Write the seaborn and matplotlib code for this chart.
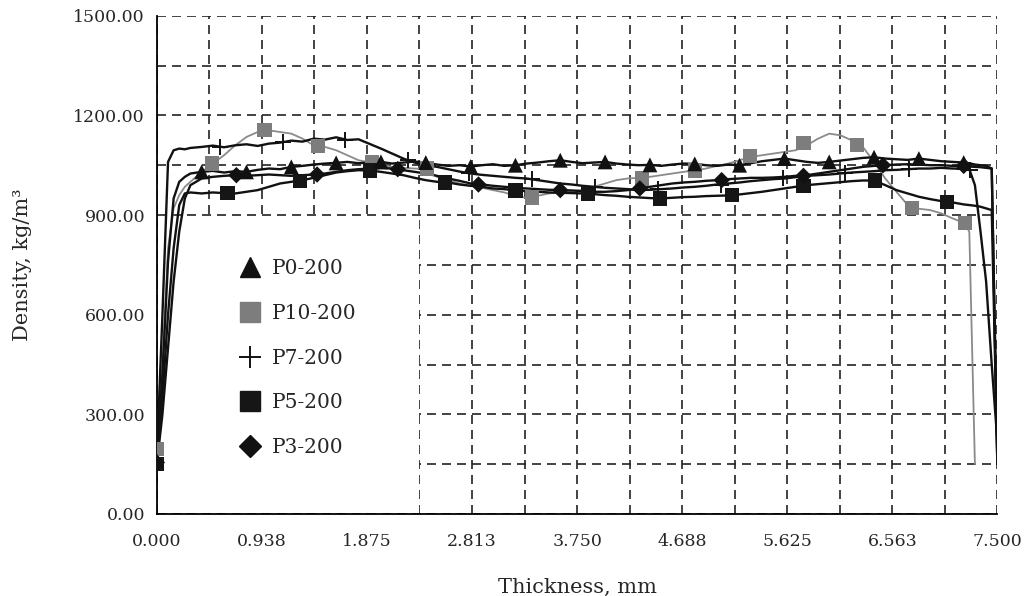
import numpy as np
import matplotlib
matplotlib.use("Agg")
import matplotlib.pyplot as plt
from matplotlib.lines import Line2D
from matplotlib.patches import Rectangle
from matplotlib.ticker import MultipleLocator, FixedLocator
import seaborn as sns

# thickness grid (mm)
thickness = [0.0, 0.05, 0.1, 0.15, 0.2, 0.25, 0.3,
             0.4, 0.5, 0.6, 0.7, 0.8, 0.9, 1.0,
             1.1, 1.2, 1.3, 1.4, 1.5, 1.6, 1.7, 1.8, 1.9, 2.0,
             2.1, 2.2, 2.3, 2.4, 2.5, 2.6, 2.7, 2.8, 2.9, 3.0,
             3.1, 3.2, 3.3, 3.4, 3.5, 3.6, 3.7, 3.8, 3.9, 4.0,
             4.1, 4.2, 4.3, 4.4, 4.5, 4.6, 4.7, 4.8, 4.9, 5.0,
             5.1, 5.2, 5.3, 5.4, 5.5, 5.6, 5.7, 5.8, 5.9, 6.0,
             6.1, 6.2, 6.3, 6.4, 6.5, 6.6, 6.7, 6.8, 6.9, 7.0,
             7.1, 7.2,
             7.25, 7.3, 7.35, 7.4, 7.45, 7.5]

# density profiles (kg/m3)
p0 = [160, 420, 760, 950, 1000, 1015, 1025,
      1030, 1033, 1028, 1032, 1030, 1036, 1040,
      1038, 1045, 1048, 1052, 1055, 1057, 1060, 1056, 1058, 1060,
      1055, 1058, 1061, 1058, 1052, 1048, 1050, 1046, 1050, 1053,
      1048, 1050, 1055, 1058, 1062, 1065, 1060, 1056, 1058, 1060,
      1055, 1052, 1050, 1051, 1048, 1052, 1055, 1054, 1050, 1048,
      1052, 1050, 1056, 1062, 1066, 1070, 1065, 1060, 1057, 1060,
      1064, 1068, 1072, 1074, 1070, 1068, 1066, 1070, 1066, 1062,
      1060, 1058,
      1056, 1052, 1050, 1048, 1040, 150]

p10 = [196, 450, 800, 920, 960, 985, 1000,
       1030, 1055, 1080, 1110, 1135, 1150, 1155,
       1150, 1145, 1130, 1110, 1105, 1095, 1080, 1065, 1058, 1050,
       1045, 1042, 1040, 1038, 1015, 1005, 995, 988, 982, 975,
       968, 958, 952, 958, 965, 968, 972, 975, 985, 995,
       1005, 1010, 1012, 1015, 1020, 1025, 1030, 1034, 1040, 1048,
       1055, 1065, 1075, 1080, 1085, 1090, 1095, 1110, 1130, 1145,
       1140, 1125, 1105, 1060, 1010, 970, 930, 919, 915, 905,
       890, 877,
       850, 150, np.nan, np.nan, np.nan, np.nan]

p7 = [170, 600, 1060, 1095, 1100, 1098, 1102,
      1105, 1109, 1104, 1110, 1113, 1108, 1115,
      1118, 1124, 1121, 1130, 1127, 1134, 1126, 1128, 1114, 1100,
      1085, 1070, 1058, 1050, 1045, 1038, 1031, 1025, 1021, 1018,
      1015, 1012, 1010, 1005, 1000, 995, 992, 988, 985, 982,
      980, 978, 975, 976, 978, 980, 983, 985, 988, 992,
      995, 998, 1002, 1005, 1008, 1010, 1014, 1018, 1020, 1022,
      1025, 1028, 1030, 1032, 1035, 1036, 1038, 1040, 1040, 1042,
      1040, 1040,
      1038, 990, 850, 700, 450, 220]

p5 = [150, 350, 600, 800, 930, 965, 968,
      965, 968, 966, 965, 970, 975, 985,
      995, 1000, 1005, 1012, 1020, 1028, 1032, 1035, 1034, 1030,
      1025, 1020, 1012, 1005, 1000, 998, 992, 988, 985, 980,
      978, 974, 972, 970, 968, 967, 966, 965, 963, 960,
      958, 955, 953, 951, 950, 952, 954, 955, 957, 958,
      959, 962, 966, 970, 975, 980, 985, 990, 993, 996,
      999, 1002, 1004, 1004, 990, 975, 965, 955, 948, 942,
      938, 932,
      930, 928, 925, 920, 915, 160]

p3 = [150, 300, 500, 700, 850, 950, 990,
      1010, 1015, 1018, 1020, 1018, 1020, 1022,
      1020, 1018, 1020, 1022, 1025, 1030, 1035, 1038, 1040, 1042,
      1040, 1035, 1030, 1025, 1018, 1010, 1003, 995, 992, 988,
      985, 982, 980, 978, 976, 975, 974, 972, 970, 970,
      972, 975, 980, 985, 990, 995, 998, 1000, 1003, 1005,
      1008, 1010, 1012, 1012, 1013, 1015, 1018, 1020, 1025, 1030,
      1035, 1040, 1045, 1048, 1050, 1052, 1053, 1052, 1050, 1050,
      1048, 1048,
      1046, 1045, 1044, 1042, 1040, 160]

# marker positions
p0_mx = [0.0, 0.4, 0.8, 1.2, 1.6, 2.0, 2.4, 2.8, 3.2, 3.6, 4.0, 4.4, 4.8, 5.2, 5.6, 6.0, 6.4, 6.8, 7.2]
p0_my = [160, 1030, 1030, 1045, 1057, 1060, 1058, 1046, 1050, 1065, 1060, 1051, 1054, 1050, 1070, 1060, 1074, 1070, 1058]
p10_mx = [0.0, 0.49, 0.96, 1.44, 1.92, 2.41, 3.35, 4.33, 4.80, 5.29, 5.77, 6.25, 6.74, 7.21]
p10_my = [196, 1055, 1155, 1107, 1058, 1040, 953, 1010, 1034, 1078, 1116, 1112, 921, 877]
p7_mx = [0.56, 1.13, 1.68, 2.24, 2.79, 3.35, 3.91, 4.47, 5.03, 5.59, 6.14, 6.71, 7.26]
p7_my = [1106, 1120, 1127, 1066, 1026, 1007, 985, 977, 989, 1010, 1026, 1038, 1036]
p5_mx = [0.0, 0.63, 1.28, 1.90, 2.57, 3.20, 3.85, 4.49, 5.13, 5.77, 6.41, 7.05]
p5_my = [150, 966, 1003, 1034, 998, 974, 965, 950, 960, 988, 1004, 940]
p3_mx = [0.0, 0.71, 1.43, 2.15, 2.87, 3.60, 4.31, 5.04, 5.77, 6.48, 7.20]
p3_my = [155, 1020, 1022, 1038, 992, 975, 980, 1005, 1018, 1050, 1048]

labels = ["P0-200", "P10-200", "P7-200", "P5-200", "P3-200"]
xtick_vals = [0.0, 0.9375, 1.875, 2.8125, 3.75, 4.6875, 5.625, 6.5625, 7.5]
xtick_labels = ["0.000", "0.938", "1.875", "2.813", "3.750", "4.688", "5.625", "6.563", "7.500"]
ytick_vals = [0, 300, 600, 900, 1200, 1500]
ytick_labels = ["0.00", "300.00", "600.00", "900.00", "1200.00", "1500.00"]

sns.set_style("white")
plt.rcParams["font.family"] = ["DejaVu Serif"]

fig = plt.figure(figsize=(10.25, 5.96), dpi=100)
ax = fig.add_axes([0.153, 0.1376, 0.820, 0.836])

gray = "#8a8a8a"
black = "#111111"

# lines
for vals, col, lw in [(p10, gray, 1.3), (p5, black, 1.7), (p3, black, 1.7),
                      (p7, black, 1.7), (p0, black, 1.7)]:
    sns.lineplot(x=thickness, y=vals, ax=ax, color=col, linewidth=lw,
                 estimator=None, sort=False, zorder=3)

# markers
sns.scatterplot(x=p10_mx, y=p10_my, ax=ax, marker="s", s=105, color="#7d7d7d",
                edgecolor="none", zorder=4)
sns.scatterplot(x=p5_mx, y=p5_my, ax=ax, marker="s", s=105, color="#161616",
                edgecolor="none", zorder=4)
sns.scatterplot(x=p3_mx, y=p3_my, ax=ax, marker="D", s=70, color=black,
                edgecolor="none", zorder=4)
sns.scatterplot(x=p0_mx, y=p0_my, ax=ax, marker="^", s=115, color=black,
                edgecolor="none", zorder=4)
sns.scatterplot(x=p7_mx, y=p7_my, ax=ax, marker="+", s=130, color=black,
                linewidth=1.4, zorder=4)

ax.set_xlim(0, 7.5)
ax.set_ylim(0, 1500)
ax.xaxis.set_major_locator(FixedLocator(xtick_vals))
ax.set_xticklabels(xtick_labels)
ax.yaxis.set_major_locator(FixedLocator(ytick_vals))
ax.set_yticklabels(ytick_labels)
ax.xaxis.set_minor_locator(MultipleLocator(0.46875))
ax.yaxis.set_minor_locator(MultipleLocator(150))
ax.tick_params(which="major", direction="inout", length=7, width=1.1,
               color="black", labelsize=12.5, pad=5)
ax.tick_params(axis="x", which="major", pad=10)
ax.tick_params(which="minor", length=0)

ax.grid(True, which="both", color="#222222", linewidth=1.2,
        linestyle=(0, (5.4, 3.6)))
ax.set_axisbelow(True)

for side in ["top", "right"]:
    ax.spines[side].set_visible(False)
for side in ["left", "bottom"]:
    ax.spines[side].set_color("black")
    ax.spines[side].set_linewidth(1.3)

# white panel behind the legend (hides the grid there)
ax.add_patch(Rectangle((0.001, 0.002), 0.3105, 0.596, transform=ax.transAxes,
                       facecolor="white", edgecolor="none", zorder=1.5))

ax.set_xlabel("Thickness, mm", fontsize=15, labelpad=20)
ax.set_ylabel("Density, kg/m³", fontsize=15, labelpad=30)

handles = [
    Line2D([], [], marker="^", ls="none", color=black, markersize=14),
    Line2D([], [], marker="s", ls="none", color="#7d7d7d", markersize=14),
    Line2D([], [], marker="+", ls="none", color=black, markersize=16, markeredgewidth=1.4),
    Line2D([], [], marker="s", ls="none", color="#161616", markersize=14),
    Line2D([], [], marker="D", ls="none", color=black, markersize=11),
]
ax.legend(handles, labels, loc="upper left", bbox_to_anchor=(0.087, 0.527),
          frameon=False, fontsize=14.5, labelspacing=1.27, handletextpad=0.5,
          handlelength=1.2, borderaxespad=0)

fig.savefig("out.png", dpi=100)
